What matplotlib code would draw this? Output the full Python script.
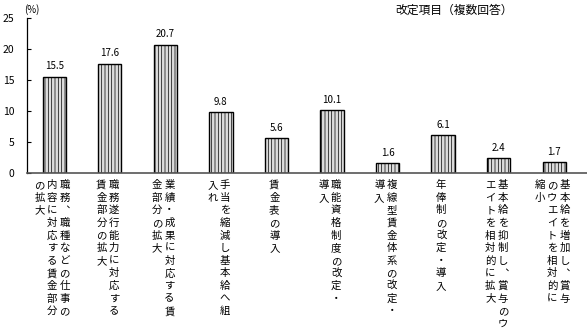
import matplotlib.pyplot as plt

plt.rcParams['font.family'] = ['Noto Sans CJK JP', 'DejaVu Sans']
plt.rcParams['hatch.color'] = '#8a8a8a'
plt.rcParams['hatch.linewidth'] = 0.5

# values (%) for each revision item
values = [15.5, 17.6, 20.7, 9.8, 5.6, 10.1, 1.6, 6.1, 2.4, 1.7]

# category labels, written vertically: columns from right to left
labels = [
    ["職務︑職種などの仕事の", "内容に対応する賃金部分", "の拡大"],
    ["職務遂行能力に対応する", "賃金部分の拡大"],
    ["業績・成果に対応する賃", "金部分の拡大"],
    ["手当を縮減し基本給へ組", "入れ"],
    ["賃金表の導入"],
    ["職能資格制度の改定・", "導入"],
    ["複線型賃金体系の改定・", "導入"],
    ["年俸制の改定・導入"],
    ["基本給を抑制し︑賞与のウ", "エイトを相対的に拡大"],
    ["基本給を増加し︑賞与", "のウエイトを相対的に", "縮小"],
]

fig = plt.figure(figsize=(5.87, 3.35), dpi=100)
ax = fig.add_axes([27 / 587, 162 / 335, 560 / 587, 155 / 335])

x = list(range(len(values)))
ax.bar(x, values, width=0.42, facecolor='#dcdcdc', edgecolor='black',
       linewidth=1.0, hatch='|||||', zorder=2)

ax.set_xlim(-0.49, 9.59)
ax.set_ylim(0, 25)
ax.set_yticks([0, 5, 10, 15, 20, 25])
ax.tick_params(axis='y', direction='in', length=3, width=0.8, labelsize=7.5, pad=9)
ax.tick_params(axis='x', length=0, labelbottom=False)
ax.spines['top'].set_visible(False)
ax.spines['right'].set_visible(False)
ax.spines['left'].set_linewidth(0.9)
ax.spines['bottom'].set_color('#555555')
ax.spines['bottom'].set_linewidth(1.2)

# value labels above bars
for i, v in enumerate(values):
    ax.annotate(f"{v:.1f}", xy=(i, v), xytext=(0, 4), textcoords='offset points',
                ha='center', va='bottom', fontsize=7)

# vertical category labels
col_pitch = 9.0   # points
row_pitch = 9.1
row_start = 8.6
for i, cols in enumerate(labels):
    n = len(cols)
    for j, col in enumerate(cols):
        dx = (n - 1) / 2 * col_pitch - j * col_pitch - 1.5
        for k, ch in enumerate(col):
            ax.annotate(ch, xy=(i, 0), xycoords=('data', 'axes fraction'),
                        xytext=(dx, -(row_start + k * row_pitch)),
                        textcoords='offset points', ha='center', va='center',
                        fontsize=7.5, annotation_clip=False)

fig.text(32 / 587, 1 - 10 / 335, "(%)", ha='center', va='center', fontsize=7)
fig.text(454 / 587, 1 - 10 / 335, "改定項目（複数回答）", ha='center', va='center',
         fontsize=8.5)

fig.savefig('out.png', dpi=100)
